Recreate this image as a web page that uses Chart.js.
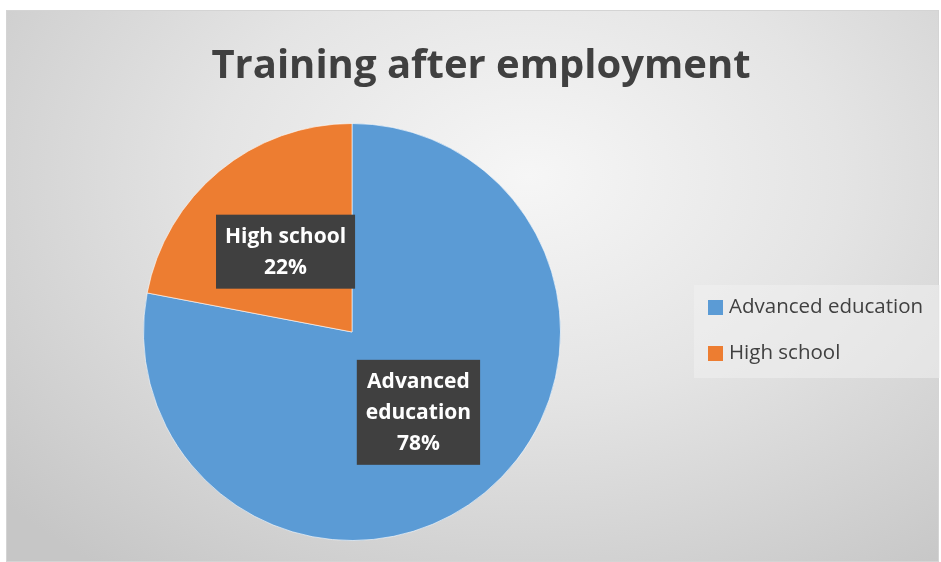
<!DOCTYPE html>
<html>
<head>
<meta charset="utf-8">
<script src="https://cdn.jsdelivr.net/npm/chart.js@4"></script>
<style>
  html, body { margin: 0; padding: 0; background: #fff; }
  #wrap { position: relative; width: 941px; height: 562px; }
  #frame {
    position: absolute; left: 6px; top: 10px; width: 933px; height: 552px;
    border: 1px solid #d4d4d4; box-sizing: border-box;
    background: radial-gradient(ellipse 75% 90% at 56% 30%, #f6f6f6 0%, #e4e4e4 45%, #c6c6c6 100%);
  }
  #chart { position: absolute; left: 0; top: 0; }
</style>
</head>
<body>
<div id="wrap">
  <div id="frame"></div>
  <canvas id="chart" width="941" height="562"></canvas>
</div>
<script>
const labels = ["Advanced education", "High school"];
const values = [78, 22];
const colors = ["#5B9BD5", "#ED7D31"];
const labelLines = [["Advanced", "education", "78%"], ["High school", "22%"]];
const titleText = "Training after employment";

// title drawn over the whole frame, not just the pie area
const bigTitle = {
  id: "bigTitle",
  afterDraw(chart) {
    const ctx = chart.ctx;
    ctx.save();
    ctx.font = "bold 40px 'Open Sans'";
    ctx.fillStyle = "#404040";
    ctx.textAlign = "center";
    ctx.textBaseline = "alphabetic";
    ctx.fillText(titleText, 481, 78);
    ctx.restore();
  }
};

// dark boxes with the category name and percentage
const boxLabels = {
  id: "boxLabels",
  afterDatasetsDraw(chart) {
    const ctx = chart.ctx;
    const meta = chart.getDatasetMeta(0);
    ctx.save();
    ctx.font = "bold 21px 'Open Sans'";
    ctx.textAlign = "center";
    ctx.textBaseline = "middle";
    meta.data.forEach((arc, i) => {
      const pos = arc.tooltipPosition();
      const lines = labelLines[i];
      const lh = 31;
      let w = 0;
      lines.forEach(l => { w = Math.max(w, ctx.measureText(l).width); });
      const bw = w + 18, bh = lines.length * lh + 12;
      ctx.fillStyle = "#404040";
      ctx.fillRect(pos.x - bw / 2, pos.y - bh / 2, bw, bh);
      ctx.fillStyle = "#ffffff";
      lines.forEach((l, k) => {
        ctx.fillText(l, pos.x, pos.y - (lines.length - 1) * lh / 2 + k * lh + 1);
      });
    });
    ctx.restore();
  }
};

// legend on the right in its own light box
const sideLegend = {
  id: "sideLegend",
  afterDraw(chart) {
    const ctx = chart.ctx;
    ctx.save();
    ctx.fillStyle = "rgba(240,240,240,0.55)";
    ctx.fillRect(694, 285, 246, 93);
    ctx.font = "20.5px 'Open Sans'";
    ctx.textBaseline = "middle";
    chart.data.labels.forEach((lab, i) => {
      const y = 307 + i * 46;
      ctx.fillStyle = colors[i];
      ctx.fillRect(708, y - 7, 15, 15);
      ctx.fillStyle = "#404040";
      ctx.fillText(lab, 729, y);
    });
    ctx.restore();
  }
};

new Chart(document.getElementById("chart"), {
  type: "pie",
  data: {
    labels: labels,
    datasets: [{
      data: values,
      backgroundColor: colors,
      borderColor: "rgba(255,255,255,0.6)",
      borderWidth: 1
    }]
  },
  options: {
    responsive: false,
    animation: false,
    layout: { padding: { left: 143, right: 380, top: 123, bottom: 21 } },
    plugins: {
      legend: { display: false },
      tooltip: { enabled: false },
      title: { display: false }
    }
  },
  plugins: [boxLabels, sideLegend, bigTitle]
});
</script>
</body>
</html>
